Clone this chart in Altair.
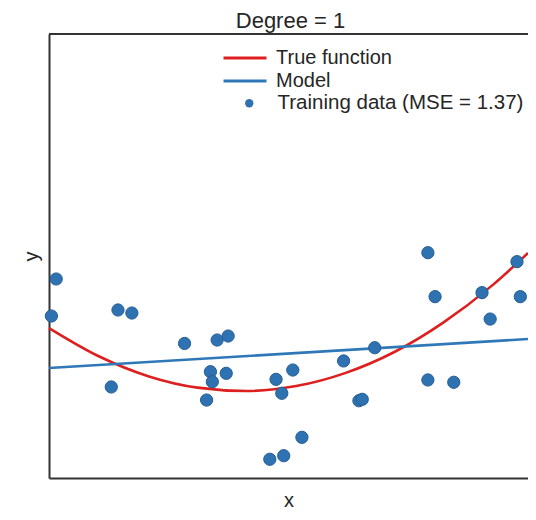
import altair as alt
import pandas as pd

# Training data
pt_x = [0.015, 0.005, 0.144, 0.173, 0.130, 0.283, 0.351, 0.374, 0.337, 0.341,
        0.370, 0.329, 0.474, 0.509, 0.486, 0.528, 0.461, 0.490, 0.615, 0.680,
        0.647, 0.654, 0.791, 0.806, 0.791, 0.845, 0.904, 0.921, 0.977, 0.984]
pt_y = [0.241, -0.176, -0.108, -0.142, -0.975, -0.485, -0.446, -0.401, -0.803, -0.916,
        -0.821, -1.122, -0.889, -0.784, -1.046, -1.542, -1.789, -1.749, -0.682, -0.533,
        -1.130, -1.114, 0.537, 0.042, -0.896, -0.922, 0.087, -0.210, 0.436, 0.042]

# True function (sampled along the red curve)
true_x = [0.0, 0.105, 0.207, 0.310, 0.413, 0.516, 0.618, 0.721, 0.823, 0.926, 1.0]
true_y = [-0.311, -0.632, -0.853, -0.982, -1.020, -0.965, -0.819, -0.581, -0.250, 0.172, 0.533]

# Model (degree 1 fit)
model_x = [0.0, 1.0]
model_y = [-0.761, -0.435]

series_names = ["True function", "Model"]
series_colors = ["#dd1f1f", "#2f78b7"]
points_label = "Training data (MSE = 1.37)"

W, H = 479, 444
FONT = "Liberation Sans"
TXT = "#262626"
FRAME = "#333333"

lines_df = pd.DataFrame({
    "x": true_x + model_x,
    "y": true_y + model_y,
    "series": [series_names[0]] * len(true_x) + [series_names[1]] * len(model_x),
})
pts_df = pd.DataFrame({"x": pt_x, "y": pt_y, "kind": [points_label] * len(pt_x)})

xs = alt.Scale(domain=[0, 1], nice=False, zero=False)
ys = alt.Scale(domain=[-2, 3], nice=False, zero=False)

x_axis = alt.Axis(ticks=False, labels=False, grid=False, domainColor=FRAME, domainWidth=2,
                  title="x", titleFont=FONT, titleFontSize=20, titleFontWeight="normal",
                  titleColor=TXT, titlePadding=12)
y_axis = alt.Axis(ticks=False, labels=False, grid=False, domainColor=FRAME, domainWidth=2,
                  title="y", titleFont=FONT, titleFontSize=20, titleFontWeight="normal",
                  titleColor=TXT, titlePadding=8)

lines = alt.Chart(lines_df).mark_line(strokeWidth=2.6, interpolate="monotone").encode(
    x=alt.X("x:Q", scale=xs, axis=x_axis),
    y=alt.Y("y:Q", scale=ys, axis=y_axis),
    color=alt.Color("series:N", scale=alt.Scale(domain=series_names, range=series_colors),
                    legend=alt.Legend(title=None, orient="none", legendX=173, legendY=13,
                                      symbolType="stroke", symbolSize=1849, symbolStrokeWidth=2.8,
                                      clipHeight=22, rowPadding=1, labelOffset=8,
                                      labelFont=FONT, labelFontSize=20, labelColor=TXT)),
    detail="series:N",
    order=alt.Order("x:Q"),
)

points = alt.Chart(pts_df).mark_point(filled=True, size=150, opacity=1,
                                      color="#2f72b2", stroke="#245d94", strokeWidth=1).encode(
    x=alt.X("x:Q", scale=xs),
    y=alt.Y("y:Q", scale=ys),
    shape=alt.Shape("kind:N", scale=alt.Scale(range=["circle"]),
                    legend=alt.Legend(title=None, orient="none", legendX=190, legendY=59,
                                      symbolSize=70, symbolFillColor="#2f72b2",
                                      symbolStrokeColor="#2f72b2", labelOffset=18,
                                      labelLimit=0,
                                      labelFont=FONT, labelFontSize=20.5, labelColor=TXT)),
)

top_rule = alt.Chart(pts_df).mark_rule(color=FRAME, strokeWidth=2).encode(
    x=alt.value(0), x2=alt.value(W), y=alt.value(0)
)

chart = alt.layer(lines, points, top_rule).properties(
    width=W, height=H,
    title=alt.TitleParams("Degree = 1", font=FONT, fontSize=22, fontWeight="normal",
                          color=TXT, anchor="middle", frame="group", offset=0, dx=2),
    padding={"left": 41, "top": 26, "right": 0, "bottom": 34},
    autosize=alt.AutoSizeParams(type="none"),
).resolve_legend(color="independent", shape="independent").configure_view(
    stroke=None
).configure(background="white")

chart.save("out.html", embed_options={"renderer": "svg", "actions": False})
